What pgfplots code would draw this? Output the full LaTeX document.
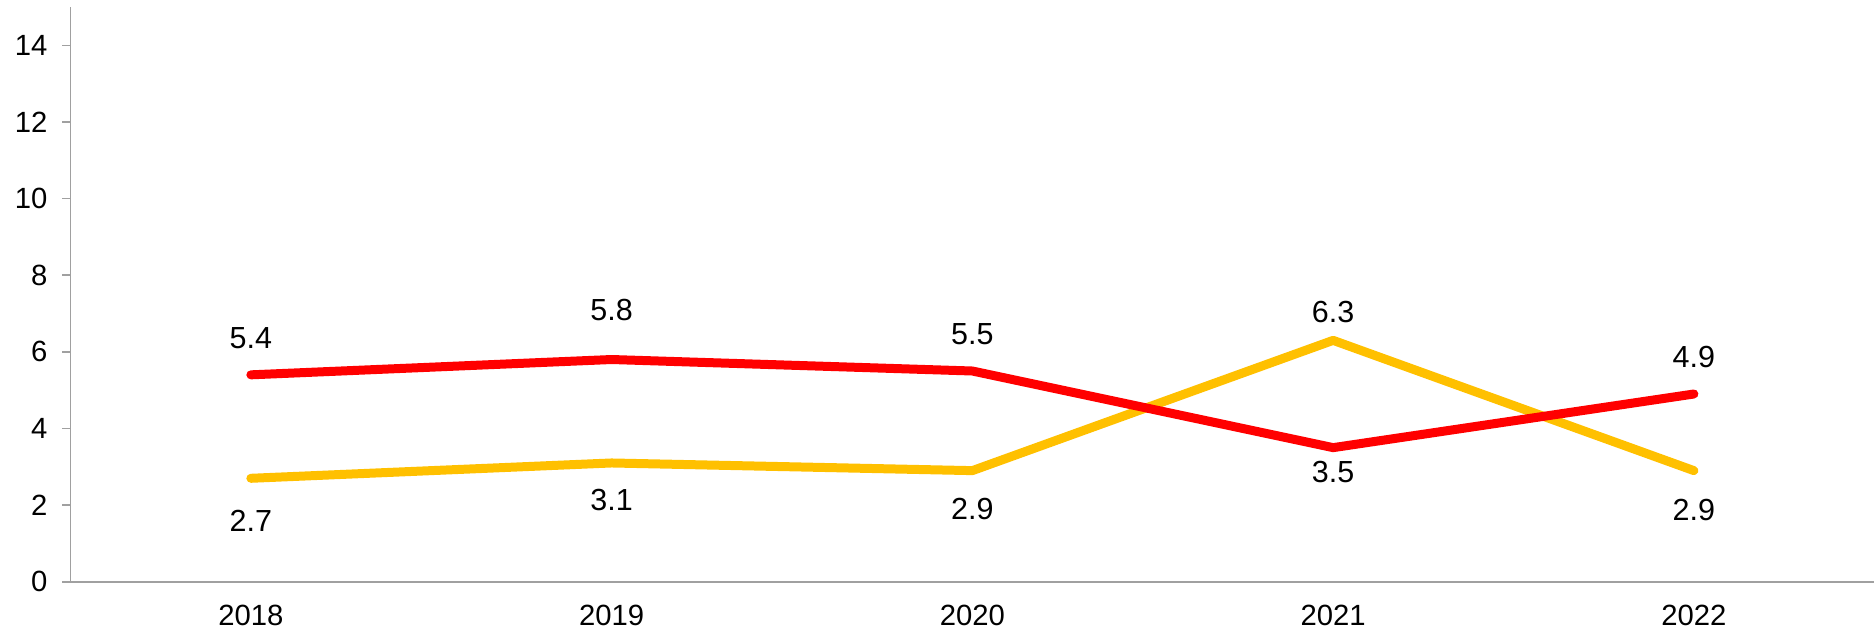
\documentclass[border=0pt]{standalone}
\usepackage{pgfplots}
\pgfplotsset{compat=1.18}
\usepackage{pgfplotstable}
\usepackage{fontspec}
\setmainfont{Liberation Sans}
\definecolor{axgray}{RGB}{160,160,160}
\definecolor{lred}{RGB}{255,0,0}
\definecolor{lgold}{RGB}{255,192,0}
\pgfplotstableread{
x y lab off
0 5.4 5.4 14.8
1 5.8 5.8 20.0
2 5.5 5.5 14.8
3 3.5 3.5 -9.6
4 4.9 4.9 14.8
}\redtab
\pgfplotstableread{
x y lab off
0 2.7 2.7 -17.2
1 3.1 3.1 -14.8
2 2.9 2.9 -15.3
3 6.3 6.3 11.5
4 2.9 2.9 -15.8
}\goldtab
\begin{document}
\begin{tikzpicture}
\begin{axis}[
  name=ax,
  scale only axis,
  width=721.8pt, height=230pt,
  xmin=-0.5, xmax=4.5,
  ymin=0, ymax=15,
  xtick={0,1,2,3,4},
  xticklabels={2018,2019,2020,2021,2022},
  ytick={0,2,4,6,8,10,12,14},
  axis lines*=left,
  axis line style={-, draw=axgray, line width=0.6pt},
  x tick style={draw=none},
  y tick style={draw=axgray, line width=0.6pt},
  tick align=outside,
  major tick length=3.2pt,
  /pgf/number format/assume math mode=true,
  tick label style={font=\fontsize{11.7}{13}\selectfont, text=black},
  xticklabel style={inner ysep=1pt, yshift=-5pt},
  yticklabel style={xshift=-2.5pt},
  clip=false,
]
\addplot[lgold, line width=3.6pt, line cap=round, line join=round,
  nodes near coords, point meta=explicit symbolic,
  visualization depends on={\thisrow{off}\as\off},
  every node near coord/.style={anchor=center, yshift=\off pt, text=black, font=\fontsize{12.2}{14}\selectfont}]
  table[x=x, y=y, meta=lab]{\goldtab};
\addplot[lred, line width=3.6pt, line cap=round, line join=round,
  nodes near coords, point meta=explicit symbolic,
  visualization depends on={\thisrow{off}\as\off},
  every node near coord/.style={anchor=center, yshift=\off pt, text=black, font=\fontsize{12.2}{14}\selectfont}]
  table[x=x, y=y, meta=lab]{\redtab};
\end{axis}
\path (ax.south west) ++(-28.2pt,-20pt);
\path (ax.north east) ++(0,2.8pt);
\end{tikzpicture}
\end{document}
